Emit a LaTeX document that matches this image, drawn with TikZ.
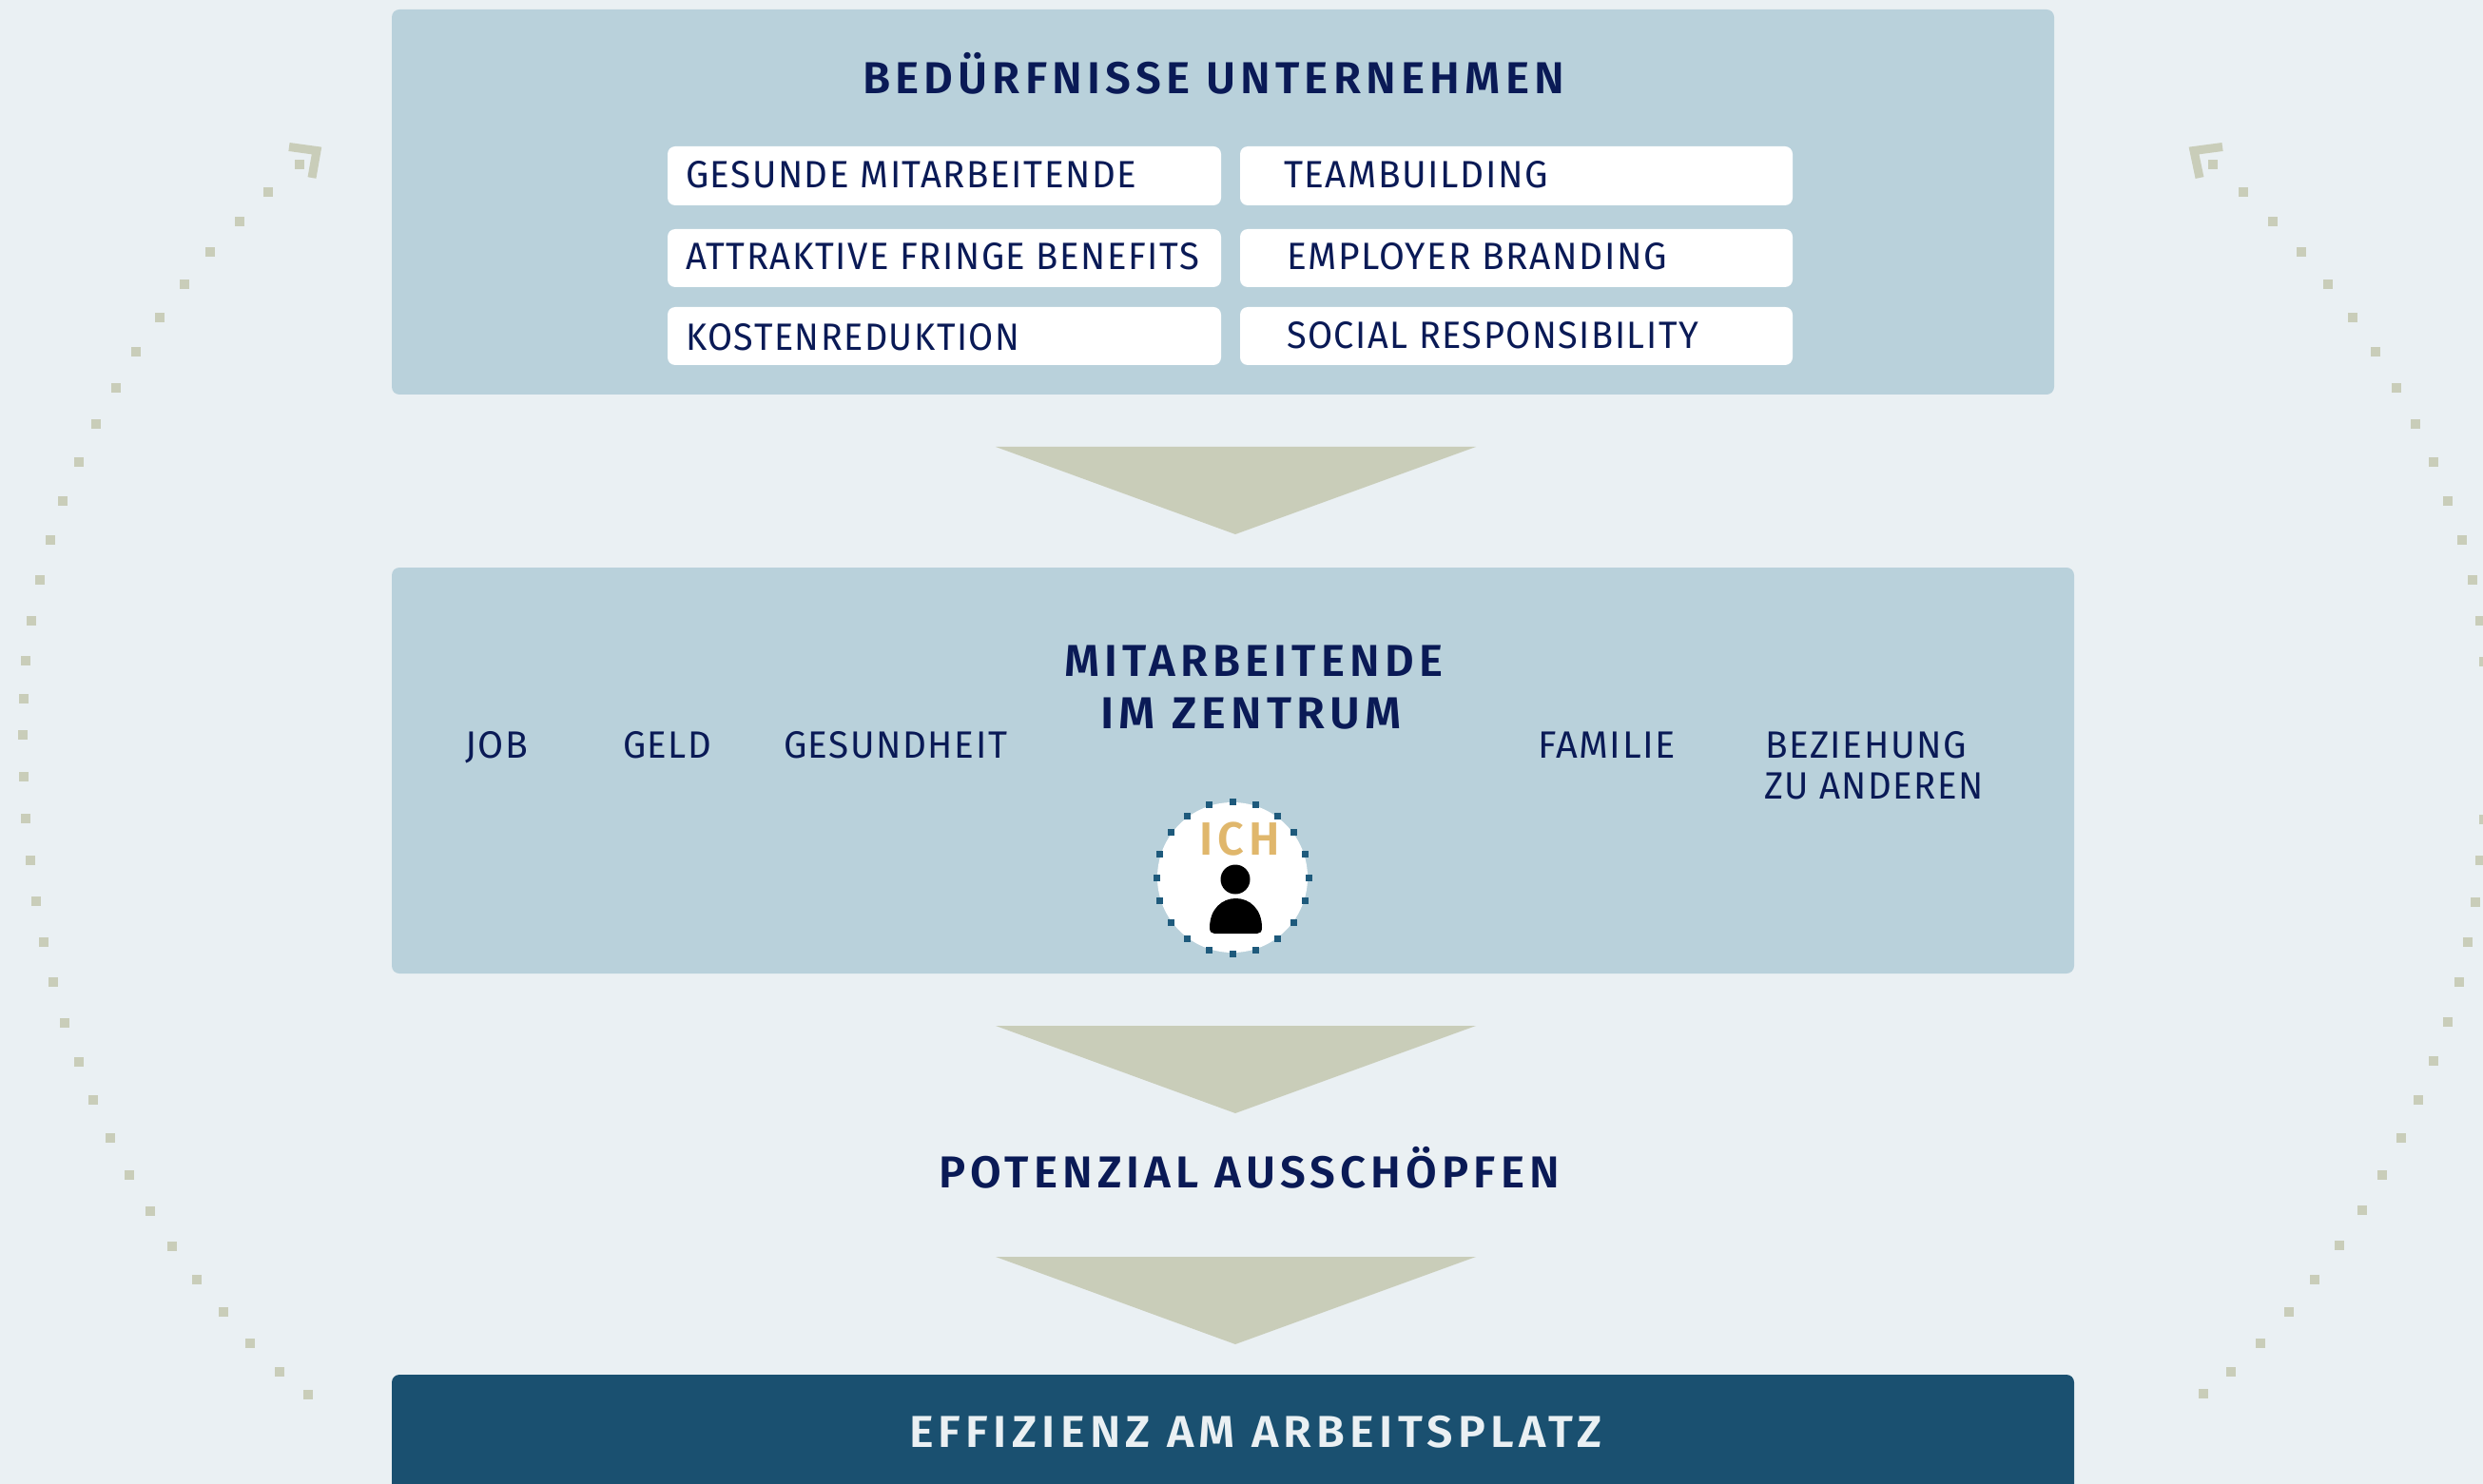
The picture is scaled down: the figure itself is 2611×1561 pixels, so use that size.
\documentclass[tikz,border=0pt]{standalone}
\usepackage{fontspec}
\usepackage{graphicx}
\setmainfont{Fira Sans}
\newfontfamily\smf[LetterSpace=4]{Fira Sans}
\newfontfamily\bigf[LetterSpace=11,BoldFont={Fira Sans SemiBold}]{Fira Sans}
\definecolor{bgc}{HTML}{EAF0F3}
\definecolor{boxc}{HTML}{B9D1DB}
\definecolor{tric}{HTML}{C9CDB9}
\definecolor{darkc}{HTML}{1A5070}
\definecolor{navy}{HTML}{0A1A56}
\definecolor{goldc}{HTML}{E0B76C}
\definecolor{ringc}{HTML}{1E5A7C}
\tikzset{
  panel/.style={fill=boxc,rounded corners=4pt,inner sep=0pt,outer sep=0pt},
  chip/.style={fill=white,rounded corners=4pt,inner sep=0pt,outer sep=0pt},
  lbl/.style={anchor=base west,inner sep=0pt,outer sep=0pt,text=navy},
  small/.style={font=\smf\fontsize{20}{24}\selectfont},
  head/.style={font=\bigf\bfseries\fontsize{23.5}{28}\selectfont},
  tri/.style={fill=tric},
  trail/.style={fill=tric},
  tip/.style={draw=tric,line width=4.5pt,miter limit=10},
}
\newcommand\pbox[6]{%
  \pgfmathsetmacro\cxx{(#2+#4)/2}\pgfmathsetmacro\cyy{(#3+#5)/2}%
  \pgfmathsetmacro\ww{(#4-#2)*0.5}\pgfmathsetmacro\hh{(#5-#3)*0.5}%
  \node[#6,minimum width=\ww pt,minimum height=\hh pt] (#1) at (\cxx,\cyy) {};}
\newcommand\lab[6]{%
  \pgfmathsetmacro\ww{(#4-#2)*0.5}%
  \node[lbl,#5] (#1) at (#2,#3) {\resizebox{\ww pt}{\height}{#6}};}
\begin{document}
\begin{tikzpicture}[x=0.5pt,y=-0.5pt]
\clip (0,0) rectangle (2611,1561);
\fill[bgc] (0,0) rectangle (2611,1561);
% dotted arcs
\foreach \p in {(315,173),(282,202),(252,233),(221,265),(194,299),(168,334),(143,370),(122,408),(101,446),(83,486),(66,527),(53,568),(42,610),(33,653),(27,695),(25,735),(24,773),(25,817),(27,861),(32,905),(38,948),(46,991),(56,1033),(68,1076),(83,1117),(98,1157),(116,1197),(136,1236),(158,1274),(181,1311),(207,1346),(235,1380),(263,1413),(294,1443),(324,1467),
(2327,173),(2359,202),(2390,233),(2420,265),(2448,299),(2474,334),(2498,370),(2520,408),(2540,446),(2559,486),(2574,527),(2589,568),(2600,610),(2608,653),(2612,696),(2612,862),(2608,905),(2603,949),(2595,991),(2586,1033),(2574,1075),(2559,1116),(2543,1157),(2525,1197),(2505,1236),(2484,1273),(2460,1310),(2434,1346),(2407,1380),(2377,1413),(2346,1443),(2317,1466)}
  \fill[trail,shift={\p}] (-5,-5) rectangle (5,5);
\draw[tip] (304,154.5) -- (333,158.5) -- (328,187);
\draw[tip] (2337,154.5) -- (2307,158.5) -- (2313,187);
% panels
\pbox{unternehmen}{412}{10}{2160}{415}{panel}
\pbox{zentrum}{412}{597}{2181}{1024}{panel}
\fill[darkc] (412,1561) {[rounded corners=4pt] -- (412,1446) -- (2181,1446)} -- (2181,1561) -- cycle;
% chips
\pbox{c1}{702}{154}{1284}{216}{chip}
\pbox{c2}{1304}{154}{1885}{216}{chip}
\pbox{c3}{702}{241}{1284}{302}{chip}
\pbox{c4}{1304}{241}{1885}{302}{chip}
\pbox{c5}{702}{323}{1284}{384}{chip}
\pbox{c6}{1304}{323}{1885}{384}{chip}
% triangles
\foreach \t in {470,1079,1322}
  \fill[tri] (1047,\t) -- (1552,\t) -- (1299,\t+92) -- cycle;
% labels
\lab{t0}{907}{99}{1645}{head}{BEDÜRFNISSE UNTERNEHMEN}
\lab{t1}{721}{198}{1195}{small}{GESUNDE MITARBEITENDE}
\lab{t2}{721}{284}{1261}{small}{ATTRAKTIVE FRINGE BENEFITS}
\lab{t3}{721}{369}{1072}{small}{KOSTENREDUKTION}
\lab{t4}{1350}{198}{1628}{small}{TEAMBUILDING}
\lab{t5}{1353}{284}{1753}{small}{EMPLOYER BRANDING}
\lab{t6}{1353}{367}{1786}{small}{SOCIAL RESPONSIBILITY}
\lab{h1}{1119}{711}{1517}{head}{MITARBEITENDE}
\lab{h2}{1157}{766}{1474}{head}{IM ZENTRUM}
\lab{j1}{489}{797}{555}{small}{JOB}
\lab{j2}{655}{797}{748}{small}{GELD}
\lab{j3}{824}{797}{1059}{small}{GESUNDHEIT}
\lab{j4}{1617}{797}{1762}{small}{FAMILIE}
\lab{j5}{1856}{797}{2068}{small}{BEZIEHUNG}
\lab{j6}{1855}{840}{2086}{small}{ZU ANDEREN}
\lab{p1}{987}{1249}{1640}{head}{POTENZIAL AUSSCHÖPFEN}
\lab{e1}{956}{1522}{1685}{head,text=bgc}{EFFIZIENZ AM ARBEITSPLATZ}
% ICH badge
\fill[white] (1296,923) circle[radius=79];
\foreach \a in {0,18,...,342}
  \fill[ringc] ({1296+80*sin(\a)-3.5},{923-80*cos(\a)-3.5}) rectangle ++(7,7);
\lab{ich}{1261}{899}{1346}{font=\bigf\bfseries\fontsize{24.5}{28}\selectfont,text=goldc}{ICH}
\fill[black] (1299,925) circle[radius=15.5];
\fill[black] (1272,976) .. controls (1272,956) and (1285,945) .. (1299.5,945) .. controls (1314,945) and (1327,956) .. (1327,976) .. controls (1327,980) and (1325,982) .. (1322,982) -- (1277,982) .. controls (1274,982) and (1272,980) .. (1272,976) -- cycle;
\end{tikzpicture}
\end{document}
